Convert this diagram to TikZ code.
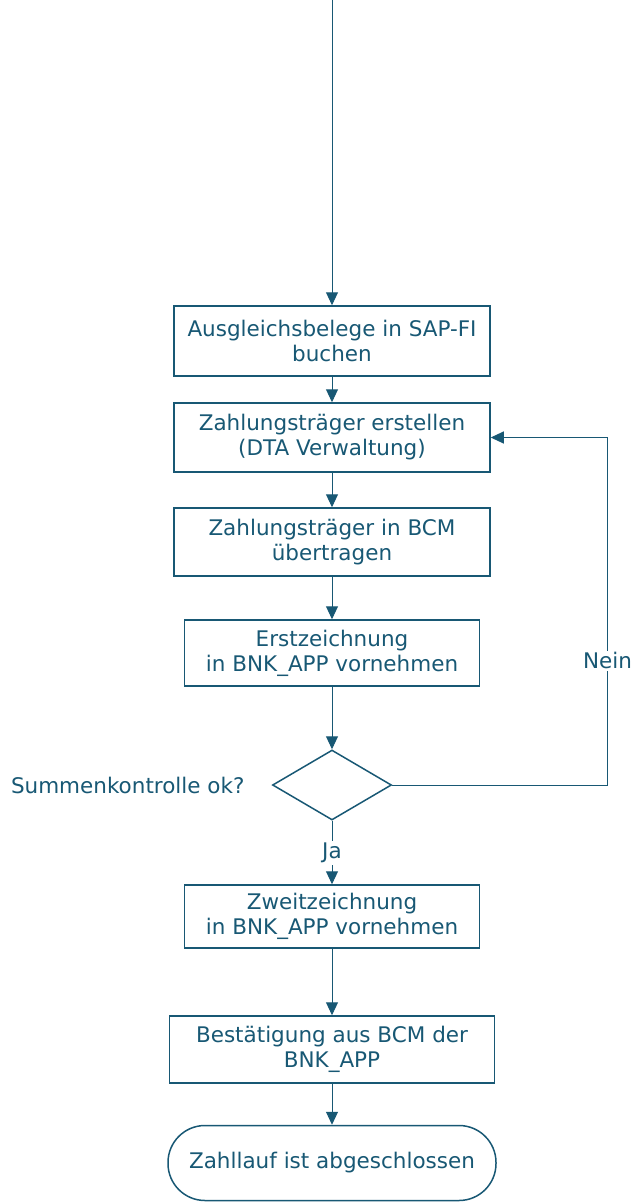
\documentclass[tikz,border=0pt]{standalone}
\usepackage{fontspec}
\setmainfont{DejaVu Sans}
\usetikzlibrary{arrows.meta,shapes.geometric}
\definecolor{flowblue}{RGB}{24,88,116}
\tikzset{
  box/.style={draw=flowblue, line width=1.5pt, text=flowblue, align=center,
    inner sep=0pt, font=\fontsize{21.5}{25}\selectfont},
  lbl/.style={text=flowblue, font=\fontsize{21.5}{25}\selectfont},
  flow/.style={draw=flowblue, line width=1pt}
}
\begin{document}
\begin{tikzpicture}[x=1pt, y=-1pt, >={Triangle[width=12pt,length=13pt]}]
\useasboundingbox (0,0) rectangle (634,1202);

\node[box, minimum width=316pt, minimum height=70pt] (buchen) at (332,341)
  {Ausgleichsbelege in SAP-FI\\buchen};
\node[box, minimum width=316pt, minimum height=69pt] (erstellen) at (332,437.5)
  {Zahlungsträger erstellen\\(DTA Verwaltung)};
\node[box, minimum width=316pt, minimum height=68pt] (uebertragen) at (332,542)
  {Zahlungsträger in BCM\\übertragen};
\node[box, minimum width=295pt, minimum height=66pt] (erst) at (332,653)
  {Erstzeichnung\\in BNK\_APP vornehmen};
\node[box, diamond, aspect=1.7, minimum width=119pt, minimum height=70pt] (summe) at (332,785) {};
\node[lbl, anchor=east] (frage) at (248,785) {Summenkontrolle ok?};
\node[box, minimum width=295pt, minimum height=63pt] (zweit) at (332,916.5)
  {Zweitzeichnung\\in BNK\_APP vornehmen};
\node[box, minimum width=325pt, minimum height=67pt] (bestaetigung) at (332,1049.5)
  {Bestätigung aus BCM der\\BNK\_APP};
\node[box, rounded corners=37pt, minimum width=328pt, minimum height=75pt] (ende) at (332,1163)
  {Zahllauf ist abgeschlossen};

\coordinate (start) at (332,0);
\coordinate (ecke1) at (607.5,785);
\coordinate (ecke2) at (607.5,437.5);

\draw[flow, ->] (start) -- (buchen);
\draw[flow, ->] (buchen) -- (erstellen);
\draw[flow, ->] (erstellen) -- (uebertragen);
\draw[flow, ->] (uebertragen) -- (erst);
\draw[flow, ->] (erst) -- (summe);
\draw[flow, ->] (summe) -- node[lbl, fill=white, inner sep=2pt]{Ja} (zweit);
\draw[flow, ->] (zweit) -- (bestaetigung);
\draw[flow, ->] (bestaetigung) -- (ende);
\draw[flow, ->] (summe.east) -- (ecke1) -- node[lbl, fill=white, inner sep=2pt, pos=.357]{Nein} (ecke2) -- (erstellen.east);
\end{tikzpicture}
\end{document}
